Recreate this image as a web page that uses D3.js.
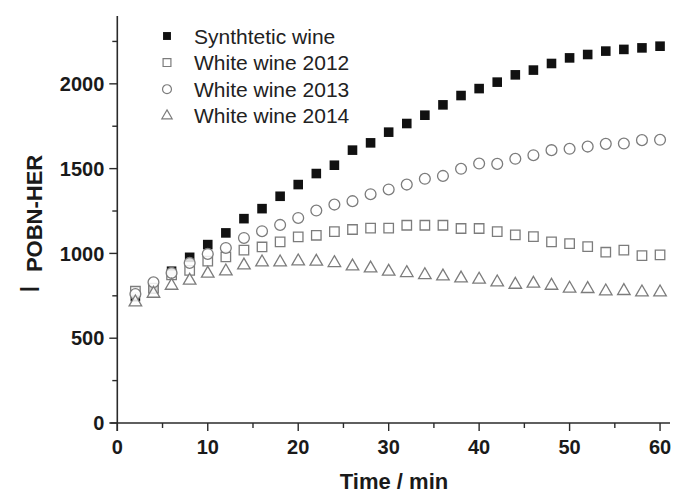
<!DOCTYPE html>
<html>
<head>
<meta charset="utf-8">
<script src="https://cdn.jsdelivr.net/npm/d3@7"></script>
<style>
  body { margin: 0; background: #fff; }
  text { font-family: Arial, "Liberation Sans", sans-serif; }
</style>
</head>
<body>
<div id="chart"></div>
<script>
// time points (min)
var times = [2, 4, 6, 8, 10, 12, 14, 16, 18, 20, 22, 24, 26, 28, 30,
             32, 34, 36, 38, 40, 42, 44, 46, 48, 50, 52, 54, 56, 58, 60];

var synthetic = [745, 790, 895, 977, 1052, 1121, 1205, 1264, 1337, 1406, 1471, 1520, 1609, 1652, 1715,
                 1766, 1815, 1876, 1931, 1972, 2010, 2053, 2081, 2120, 2153, 2173, 2193, 2203, 2212, 2222];
var white2012 = [777, 795, 873, 900, 954, 979, 1019, 1038, 1068, 1097, 1107, 1129, 1141, 1149, 1149,
                 1166, 1166, 1166, 1147, 1147, 1129, 1109, 1099, 1068, 1058, 1040, 1007, 1019, 987, 991];
var white2013 = [760, 830, 885, 944, 997, 1032, 1091, 1131, 1168, 1209, 1253, 1288, 1308, 1349, 1377,
                 1406, 1440, 1457, 1499, 1530, 1528, 1558, 1579, 1609, 1617, 1630, 1646, 1648, 1668, 1670];
var white2014 = [712, 763, 810, 840, 881, 895, 930, 948, 948, 954, 952, 944, 924, 912, 893,
                 885, 873, 865, 853, 846, 830, 816, 822, 810, 793, 791, 777, 779, 771, 771];

var seriesNames = ["Synthtetic wine", "White wine 2012", "White wine 2013", "White wine 2014"];
var xTicks = [0, 10, 20, 30, 40, 50, 60];
var yTicks = [0, 500, 1000, 1500, 2000];

var w = 673, h = 495;

var svg = d3.select("#chart").append("svg")
    .attr("width", w)
    .attr("height", h);

var x = d3.scaleLinear().domain([0, 61.1]).range([117.3, 670]);
var y = d3.scaleLinear().domain([0, 2400]).range([423, 16]);

var axisColor = "#2a2a2a";
var grey = "#7c7c7c";

// x axis
var xAxis = svg.append("g")
    .attr("transform", "translate(0," + y(0) + ")");
xAxis.append("line")
    .attr("x1", x(0) - 7).attr("x2", x(61.1))
    .attr("stroke", axisColor).attr("stroke-width", 1.6);
xAxis.selectAll(".minor")
    .data(d3.range(5, 60, 10))
    .enter().append("line")
    .attr("x1", function(d) { return x(d); })
    .attr("x2", function(d) { return x(d); })
    .attr("y1", 0).attr("y2", 5)
    .attr("stroke", axisColor).attr("stroke-width", 1.4);
xAxis.selectAll(".major")
    .data(xTicks)
    .enter().append("line")
    .attr("x1", function(d) { return x(d); })
    .attr("x2", function(d) { return x(d); })
    .attr("y1", 0).attr("y2", 8)
    .attr("stroke", axisColor).attr("stroke-width", 1.4);
xAxis.selectAll(".lbl")
    .data(xTicks)
    .enter().append("text")
    .attr("x", function(d) { return x(d); })
    .attr("y", 31)
    .attr("text-anchor", "middle")
    .attr("font-size", 20)
    .attr("font-weight", "bold")
    .attr("fill", "#1a1a1a")
    .text(function(d) { return d; });

// y axis
var yAxis = svg.append("g")
    .attr("transform", "translate(" + x(0) + ",0)");
yAxis.append("line")
    .attr("y1", y(0) + 8).attr("y2", y(2400))
    .attr("stroke", axisColor).attr("stroke-width", 1.6);
yAxis.selectAll(".minor")
    .data(d3.range(250, 2400, 500))
    .enter().append("line")
    .attr("y1", function(d) { return y(d); })
    .attr("y2", function(d) { return y(d); })
    .attr("x1", 0).attr("x2", -5)
    .attr("stroke", axisColor).attr("stroke-width", 1.4);
yAxis.selectAll(".major")
    .data(yTicks)
    .enter().append("line")
    .attr("y1", function(d) { return y(d); })
    .attr("y2", function(d) { return y(d); })
    .attr("x1", 0).attr("x2", -8)
    .attr("stroke", axisColor).attr("stroke-width", 1.4);
yAxis.selectAll(".lbl")
    .data(yTicks)
    .enter().append("text")
    .attr("x", -13)
    .attr("y", function(d) { return y(d); })
    .attr("dy", "0.36em")
    .attr("text-anchor", "end")
    .attr("font-size", 20)
    .attr("font-weight", "bold")
    .attr("fill", "#1a1a1a")
    .text(function(d) { return d; });

// axis titles
svg.append("text")
    .attr("x", 394)
    .attr("y", 489)
    .attr("text-anchor", "middle")
    .attr("font-size", 22)
    .attr("font-weight", "bold")
    .attr("fill", "#1a1a1a")
    .text("Time / min");

var yTitle = svg.append("text")
    .attr("transform", "translate(39,293) rotate(-90)")
    .attr("fill", "#1a1a1a");
yTitle.append("tspan")
    .attr("font-size", 28)
    .text("I");
yTitle.append("tspan")
    .attr("font-size", 22)
    .attr("font-weight", "bold")
    .attr("dx", 7)
    .attr("dy", 3)
    .text(" POBN-HER");

// series
var series = [
  { name: seriesNames[0], values: synthetic, type: d3.symbolSquare, size: 92, fill: "#111", stroke: "none" },
  { name: seriesNames[1], values: white2012, type: d3.symbolSquare, size: 90, fill: "#fff", stroke: grey },
  { name: seriesNames[2], values: white2013, type: d3.symbolCircle, size: 92, fill: "#fff", stroke: grey },
  { name: seriesNames[3], values: white2014, type: d3.symbolTriangle, size: 68, fill: "#fff", stroke: grey }
];

series.forEach(function(s) {
  var sym = d3.symbol().type(s.type).size(s.size);
  svg.append("g")
      .selectAll("path")
      .data(s.values)
      .enter().append("path")
      .attr("d", sym)
      .attr("transform", function(d, i) { return "translate(" + x(times[i]) + "," + y(d) + ")"; })
      .attr("fill", s.fill)
      .attr("fill-opacity", s.fill == "#fff" ? 0.85 : 1)
      .attr("stroke", s.stroke)
      .attr("stroke-width", 1.3);
});

// legend
var legend = svg.append("g");
var legendRows = legend.selectAll("g")
    .data(series)
    .enter().append("g")
    .attr("transform", function(d, i) { return "translate(0," + (36 + i * 26.6) + ")"; });
legendRows.append("path")
    .attr("d", function(d) { return d3.symbol().type(d.type).size(d.size * 0.68)(); })
    .attr("transform", "translate(167,0)")
    .attr("fill", function(d) { return d.fill; })
    .attr("stroke", function(d) { return d.stroke; })
    .attr("stroke-width", 1.2);
legendRows.append("text")
    .attr("x", 194)
    .attr("dy", "0.36em")
    .attr("font-size", 21)
    .attr("fill", "#222")
    .text(function(d) { return d.name; });
</script>
</body>
</html>
